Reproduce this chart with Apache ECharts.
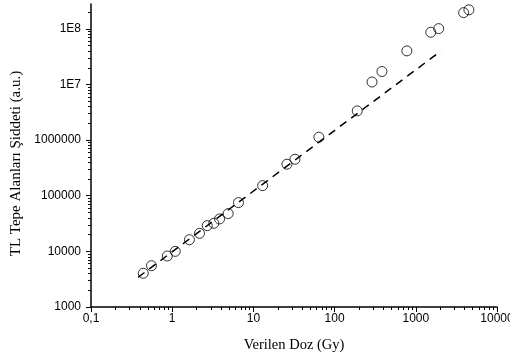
<!DOCTYPE html>
<html><head><meta charset="utf-8">
<script src="https://cdn.jsdelivr.net/npm/echarts@6/dist/echarts.min.js"></script>
<style>html,body{margin:0;padding:0;background:#fff}#c{width:510px;height:358px}</style>
</head><body><div id="c"></div>
<script>
const doses = [0.44, 0.556, 0.87, 1.09, 1.63, 2.17, 2.7, 3.26, 3.83, 4.89, 6.55, 13.0, 25.9, 32.5, 64, 190, 289, 383, 776, 1530, 1915, 3880, 4510];
const intensities = [4040, 5530, 8260, 10000, 16200, 21100, 29000, 32000, 38300, 47800, 75200, 152000, 369000, 453000, 1130000, 3350000, 11100000, 17100000, 40200000, 87000000, 101000000, 196000000, 220000000];
const fitLineX = [0.38, 2040];
const fitLineY = [3420, 40000000];
const xTickValues = [0.1, 1, 10, 100, 1000, 10000];
const xTickLabels = ['0,1', '1', '10', '100', '1000', '10000'];
const yTickValues = [1e3, 1e4, 1e5, 1e6, 1e7, 1e8];
const yTickLabels = ['1000', '10000', '100000', '1000000', '1E7', '1E8'];
const xTitle = 'Verilen Doz (Gy)';
const yTitle = 'TL Tepe Alanları Şiddeti (a.u.)';
const xMin = 0.1, xMax = 10000, yMin = 1000, yMax = 2.8e8;

function minorTicks(min, max) {
  const out = [];
  for (let d = Math.floor(Math.log10(min)); d <= Math.ceil(Math.log10(max)); d++) {
    for (let k = 2; k <= 9; k++) {
      const v = Number((k * Math.pow(10, d)).toPrecision(12));
      if (v > min && v < max) out.push(v);
    }
  }
  return out;
}
function labelFor(values, labels) {
  return function (v) {
    for (let i = 0; i < values.length; i++) {
      if (Math.abs(Math.log10(v) - Math.log10(values[i])) < 1e-6) return labels[i];
    }
    return '';
  };
}
const tickFont = {color: '#000', fontFamily: 'Liberation Sans', fontSize: 12};
const titleFont = {color: '#000', fontFamily: 'Liberation Serif', fontSize: 15};
const chart = echarts.init(document.getElementById('c'), null, {renderer: 'canvas'});
chart.setOption({
  animation: false,
  backgroundColor: '#fff',
  grid: {left: 91, right: 13, top: 4, bottom: 51, containLabel: false, outerBoundsMode: 'none'},
  xAxis: [
    {
      type: 'log', logBase: 10, min: xMin, max: xMax, position: 'bottom',
      axisLine: {lineStyle: {color: '#000', width: 1.5}},
      axisTick: {customValues: xTickValues, length: 5, lineStyle: {color: '#000', width: 1}},
      axisLabel: Object.assign({customValues: xTickValues, formatter: labelFor(xTickValues, xTickLabels), margin: 6, hideOverlap: false}, tickFont),
      splitLine: {show: false},
      name: xTitle, nameLocation: 'middle', nameGap: 31,
      nameTextStyle: Object.assign({}, titleFont, {fontSize: 14.5})
    },
    {
      type: 'log', logBase: 10, min: xMin, max: xMax, position: 'bottom',
      axisLine: {show: false},
      axisTick: {customValues: minorTicks(xMin, xMax), length: 3, lineStyle: {color: '#000', width: 1}},
      axisLabel: {show: false}, splitLine: {show: false}
    }
  ],
  yAxis: [
    {
      type: 'log', logBase: 10, min: yMin, max: yMax, position: 'left',
      axisLine: {lineStyle: {color: '#000', width: 1.5}},
      axisTick: {customValues: yTickValues, length: 5, lineStyle: {color: '#000', width: 1}},
      axisLabel: Object.assign({customValues: yTickValues, formatter: labelFor(yTickValues, yTickLabels), margin: 10}, tickFont),
      splitLine: {show: false},
      name: yTitle, nameLocation: 'middle', nameGap: 64,
      nameTextStyle: Object.assign({}, titleFont, {padding: [0, 16, 0, 0]})
    },
    {
      type: 'log', logBase: 10, min: yMin, max: yMax, position: 'left',
      axisLine: {show: false},
      axisTick: {customValues: minorTicks(yMin, yMax), length: 3, lineStyle: {color: '#000', width: 1}},
      axisLabel: {show: false}, splitLine: {show: false}
    }
  ],
  series: [
    {
      type: 'line', xAxisIndex: 0, yAxisIndex: 0,
      data: fitLineX.map((x, i) => [x, fitLineY[i]]),
      symbol: 'none', silent: true,
      lineStyle: {color: '#000', width: 1.5, type: [8, 6]}
    },
    {
      type: 'scatter', xAxisIndex: 0, yAxisIndex: 0,
      data: doses.map((x, i) => [x, intensities[i]]),
      symbol: 'circle', symbolSize: 10,
      itemStyle: {color: 'rgba(0,0,0,0)', borderColor: '#000', borderWidth: 1},
      z: 3
    }
  ]
});
</script>
</body></html>
